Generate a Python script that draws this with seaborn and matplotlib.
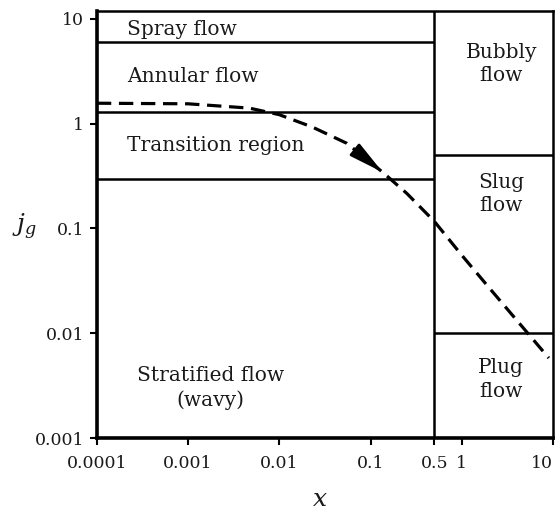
import numpy as np
import pandas as pd
import matplotlib
matplotlib.use("Agg")
import matplotlib.pyplot as plt
import seaborn as sns

# ---- data ----
curve_x = [0.0001, 0.001, 0.0047, 0.01, 0.023, 0.055, 0.136, 0.25, 0.5, 1, 2, 5, 9]
curve_y = [1.57, 1.55, 1.41, 1.22, 0.93, 0.65, 0.344, 0.216, 0.117, 0.0556, 0.0271, 0.0106, 0.0058]

split_x = 0.5
left_bounds = [6.0, 1.3, 0.3]      # spray/annular, annular/transition, transition/stratified
right_bounds = [0.5, 0.01]         # bubbly/slug, slug/plug

x_ticks = [0.0001, 0.001, 0.01, 0.1, 0.5, 1, 10]
x_tick_labels = ["0.0001", "0.001", "0.01", "0.1", "0.5", "1", "10"]
y_ticks = [0.001, 0.01, 0.1, 1, 10]
y_tick_labels = ["0.001", "0.01", "0.1", "1", "10"]

x_lim = (0.0001, 10)
y_lim = (0.001, 11.9)

left_labels = ["Spray flow", "Annular flow", "Transition region"]
right_labels = ["Bubbly\nflow", "Slug\nflow", "Plug\nflow"]
bottom_label = "Stratified flow\n(wavy)"

# ---- style ----
sns.set_style("ticks")
plt.rcParams["font.family"] = ["DejaVu Serif"]
plt.rcParams["mathtext.fontset"] = "dejavuserif"

fig = plt.figure(figsize=(5.6, 5.15), dpi=100)
ax = fig.add_axes([0.173, 0.1495, 0.8145, 0.829])
ax.set_xscale("log")
ax.set_yscale("log")
ax.set_xlim(*x_lim)
ax.set_ylim(*y_lim)

df = pd.DataFrame({"x": curve_x, "y": curve_y})
sns.lineplot(data=df, x="x", y="y", ax=ax, sort=False, color="black",
             linewidth=2.3, dashes=False, zorder=4)
ax.lines[-1].set_dashes([4.5, 2.4])

# arrow head on the curve
i = 6
tip = (curve_x[i], curve_y[i])
back = (curve_x[i - 1] ** 0.45 * curve_x[i] ** 0.55, curve_y[i - 1] ** 0.45 * curve_y[i] ** 0.55)
ax.annotate("", xy=tip, xytext=back,
            arrowprops=dict(arrowstyle="-|>,head_length=0.55,head_width=0.12",
                            mutation_scale=38, color="black", lw=2.0,
                            shrinkA=0, shrinkB=0), zorder=5)

# region boundaries
lw = 1.8
ax.vlines(split_x, y_lim[0], y_lim[1], color="black", lw=lw, zorder=3)
ax.hlines(left_bounds, x_lim[0], split_x, color="black", lw=lw, zorder=3)
ax.hlines(right_bounds, split_x, x_lim[1], color="black", lw=lw, zorder=3)

# labels
fs = 14.5
tc = "#1a1a1a"
ls = 1.3
lx = 0.000213
ax.text(lx, 8.0, left_labels[0], fontsize=fs, va="center", ha="left", color=tc)
ax.text(lx, 2.85, left_labels[1], fontsize=fs, va="center", ha="left", color=tc)
ax.text(lx, 0.62, left_labels[2], fontsize=fs, va="center", ha="left", color=tc)
ax.text(0.00177, 0.0030, bottom_label, fontsize=fs, va="center", ha="center",
        color=tc, linespacing=ls)
rx = 2.7
ax.text(rx, 3.7, right_labels[0], fontsize=fs, va="center", ha="center", color=tc, linespacing=ls)
ax.text(rx, 0.214, right_labels[1], fontsize=fs, va="center", ha="center", color=tc, linespacing=ls)
ax.text(rx, 0.0036, right_labels[2], fontsize=fs, va="center", ha="center", color=tc, linespacing=ls)

# axes
ax.set_xticks(x_ticks)
ax.set_xticklabels(x_tick_labels)
ax.set_yticks(y_ticks)
ax.set_yticklabels(y_tick_labels)
ax.minorticks_off()
ax.tick_params(axis="both", which="major", labelsize=12.5, length=5, width=1.5,
               direction="out", color="black", labelcolor=tc)
ax.tick_params(axis="x", pad=7)
ax.tick_params(axis="y", pad=4)
ax.get_xticklabels()[-1].set_horizontalalignment("right")

for side in ["left", "bottom"]:
    ax.spines[side].set_linewidth(2.6)
for side in ["top", "right"]:
    ax.spines[side].set_linewidth(1.8)
for s in ax.spines.values():
    s.set_color("black")

ax.set_xlabel("$x$", fontsize=18, color=tc, va="center")
ax.set_ylabel("$j_g$", fontsize=18, rotation=0, va="center", color=tc)
ax.xaxis.set_label_coords(0.489, -0.145)
ax.yaxis.set_label_coords(-0.158, 0.494)

fig.savefig("out.png", dpi=100)
